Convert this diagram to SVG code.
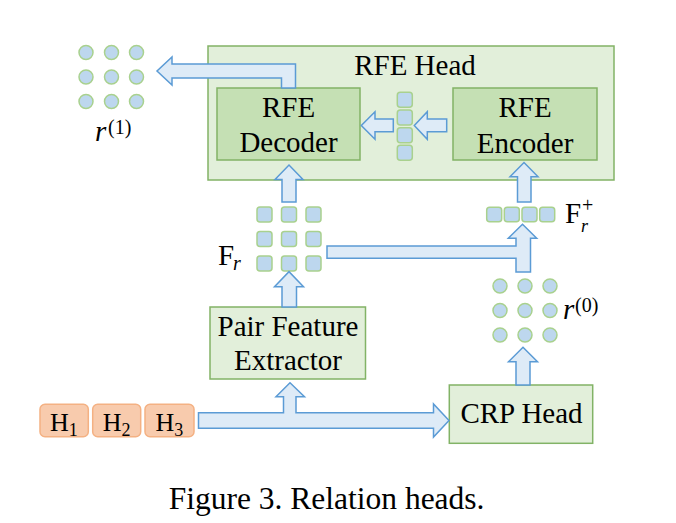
<svg xmlns="http://www.w3.org/2000/svg" width="676" height="523" viewBox="0 0 676 523">
<style>
.t{font-family:"Liberation Serif","Times New Roman",serif;fill:#000}
.box{fill:#e2efda;stroke:#82b366;stroke-width:1.5}
.inner{fill:#c5e0b4;stroke:#82b366;stroke-width:1.5}
.arr{fill:#deebf7;stroke:#5b9bd5;stroke-width:1.5;stroke-linejoin:miter}
.dot{fill:#bdd7ee;stroke:#a9d18e;stroke-width:1.5}
.h{fill:#f8cbad;stroke:#f4b183;stroke-width:1.5}
</style>
<rect width="676" height="523" fill="#fff"/>
<g id="rfe-head">
<rect class="box" x="208" y="46" width="406" height="134"/>
<text class="t" x="415" y="75" font-size="29" text-anchor="middle">RFE Head</text>
</g>
<g id="rfe-decoder">
<rect class="inner" x="217" y="88" width="143" height="72"/>
<text class="t" x="288.5" y="117" font-size="29" text-anchor="middle">RFE</text>
<text class="t" x="288.5" y="152" font-size="29" text-anchor="middle">Decoder</text>
</g>
<g id="rfe-encoder">
<rect class="inner" x="453" y="88" width="144" height="72"/>
<text class="t" x="525" y="117" font-size="29" text-anchor="middle">RFE</text>
<text class="t" x="525" y="152.5" font-size="29" text-anchor="middle">Encoder</text>
</g>
<g id="pair-feature-extractor">
<rect class="box" x="210" y="307" width="155.5" height="72"/>
<text class="t" x="288" y="335.5" font-size="29" text-anchor="middle">Pair Feature</text>
<text class="t" x="288" y="370" font-size="29" text-anchor="middle">Extractor</text>
</g>
<g id="crp-head">
<rect class="box" x="449.3" y="385" width="143.4" height="58.3"/>
<text class="t" x="521.5" y="423.3" font-size="29" text-anchor="middle">CRP Head</text>
</g>
<g id="h1">
<rect class="h" x="40" y="404.3" width="48.3" height="32.4" rx="5"/>
<text class="t" x="50" y="430.7" font-size="26">H<tspan font-size="18" dy="5">1</tspan></text>
</g>
<g id="h2">
<rect class="h" x="92.7" y="404.3" width="48" height="32.4" rx="5"/>
<text class="t" x="102.7" y="430.7" font-size="26">H<tspan font-size="18" dy="5">2</tspan></text>
</g>
<g id="h3">
<rect class="h" x="145" y="404.3" width="49" height="32.4" rx="5"/>
<text class="t" x="155.5" y="430.7" font-size="26">H<tspan font-size="18" dy="5">3</tspan></text>
</g>
<g id="r1">
<circle class="dot" cx="86" cy="52.5" r="7"/><circle class="dot" cx="111.5" cy="52.5" r="7"/><circle class="dot" cx="136.5" cy="52.5" r="7"/>
<circle class="dot" cx="86" cy="77" r="7"/><circle class="dot" cx="111.5" cy="77" r="7"/><circle class="dot" cx="136.5" cy="77" r="7"/>
<circle class="dot" cx="86" cy="101.5" r="7"/><circle class="dot" cx="111.5" cy="101.5" r="7"/><circle class="dot" cx="136.5" cy="101.5" r="7"/>
<text class="t" x="95" y="141" font-size="29" font-style="italic">r<tspan font-size="20" font-style="normal" x="108" y="134">(1)</tspan></text>
</g>
<g id="r0">
<circle class="dot" cx="500" cy="286" r="7"/><circle class="dot" cx="525" cy="286" r="7"/><circle class="dot" cx="550" cy="286" r="7"/>
<circle class="dot" cx="500" cy="310.5" r="7"/><circle class="dot" cx="525" cy="310.5" r="7"/><circle class="dot" cx="550" cy="310.5" r="7"/>
<circle class="dot" cx="500" cy="335" r="7"/><circle class="dot" cx="525" cy="335" r="7"/><circle class="dot" cx="550" cy="335" r="7"/>
<text class="t" x="563" y="319" font-size="29" font-style="italic">r<tspan font-size="20" font-style="normal" x="575" y="312">(0)</tspan></text>
</g>
<g id="fr">
<rect class="dot" x="257" y="207" width="15" height="15" rx="3"/><rect class="dot" x="281.5" y="207" width="15" height="15" rx="3"/><rect class="dot" x="306" y="207" width="15" height="15" rx="3"/>
<rect class="dot" x="257" y="231.5" width="15" height="15" rx="3"/><rect class="dot" x="281.5" y="231.5" width="15" height="15" rx="3"/><rect class="dot" x="306" y="231.5" width="15" height="15" rx="3"/>
<rect class="dot" x="257" y="256" width="15" height="15" rx="3"/><rect class="dot" x="281.5" y="256" width="15" height="15" rx="3"/><rect class="dot" x="306" y="256" width="15" height="15" rx="3"/>
<text class="t" x="218" y="265" font-size="29">F<tspan font-size="20" font-style="italic" x="233" y="270">r</tspan></text>
</g>
<g id="fr-plus">
<rect class="dot" x="486.7" y="207.3" width="15" height="14.5" rx="3"/><rect class="dot" x="504.3" y="207.3" width="15" height="14.5" rx="3"/><rect class="dot" x="522" y="207.3" width="15" height="14.5" rx="3"/><rect class="dot" x="539.7" y="207.3" width="15" height="14.5" rx="3"/>
<text class="t" x="565" y="223.3" font-size="29">F</text>
<text class="t" x="582" y="212" font-size="20">+</text>
<text class="t" x="581" y="232" font-size="18" font-style="italic">r</text>
</g>
<g id="latent">
<rect class="dot" x="397.3" y="92.3" width="15" height="15" rx="3"/>
<rect class="dot" x="397.3" y="110" width="15" height="15" rx="3"/>
<rect class="dot" x="397.3" y="127.7" width="15" height="15" rx="3"/>
<rect class="dot" x="397.3" y="145.3" width="15" height="15" rx="3"/>
</g>
<g id="connectors">
<path class="arr" d="M281.5,88 L281.5,78 L172,78 L172,85 L157,71 L172,57 L172,64 L295.5,64 L295.5,88 Z"/>
<path class="arr" d="M282,202 L282,179.5 L275,179.5 L289,165 L303,179.5 L296,179.5 L296,202 Z"/>
<path class="arr" d="M517.5,202 L517.5,176.7 L510,176.7 L524,162.5 L538,176.7 L531,176.7 L531,202 Z"/>
<path class="arr" d="M446.7,119 L427.3,119 L427.3,111.7 L414.3,125.5 L427.3,139.3 L427.3,131.7 L446.7,131.7 Z"/>
<path class="arr" d="M393.3,119 L375,119 L375,111.7 L361.3,125.5 L375,139.3 L375,131.7 L393.3,131.7 Z"/>
<path class="arr" d="M327,246 L516,246 L516,238.3 L508.3,238.3 L522.5,224.3 L536.7,238.3 L530.5,238.3 L530.5,272 L516,272 L516,258.3 L327,258.3 Z"/>
<path class="arr" d="M282,307 L282,286.7 L274.5,286.7 L289,271.7 L303.5,286.7 L296.5,286.7 L296.5,307 Z"/>
<path class="arr" d="M516,385 L516,361.7 L508.5,361.7 L523,347.3 L537.5,361.7 L530,361.7 L530,385 Z"/>
<path class="arr" d="M198.5,412.7 L283.5,412.7 L283.5,396.7 L276,396.7 L290,382.7 L304.5,396.7 L296,396.7 L296,412.7 L433.5,412.7 L433.5,404 L449,420.5 L433.5,437 L433.5,428.3 L198.5,428.3 Z"/>
</g>
<text class="t" x="326.6" y="509.3" font-size="31.5" text-anchor="middle">Figure 3. Relation heads.</text>
</svg>
